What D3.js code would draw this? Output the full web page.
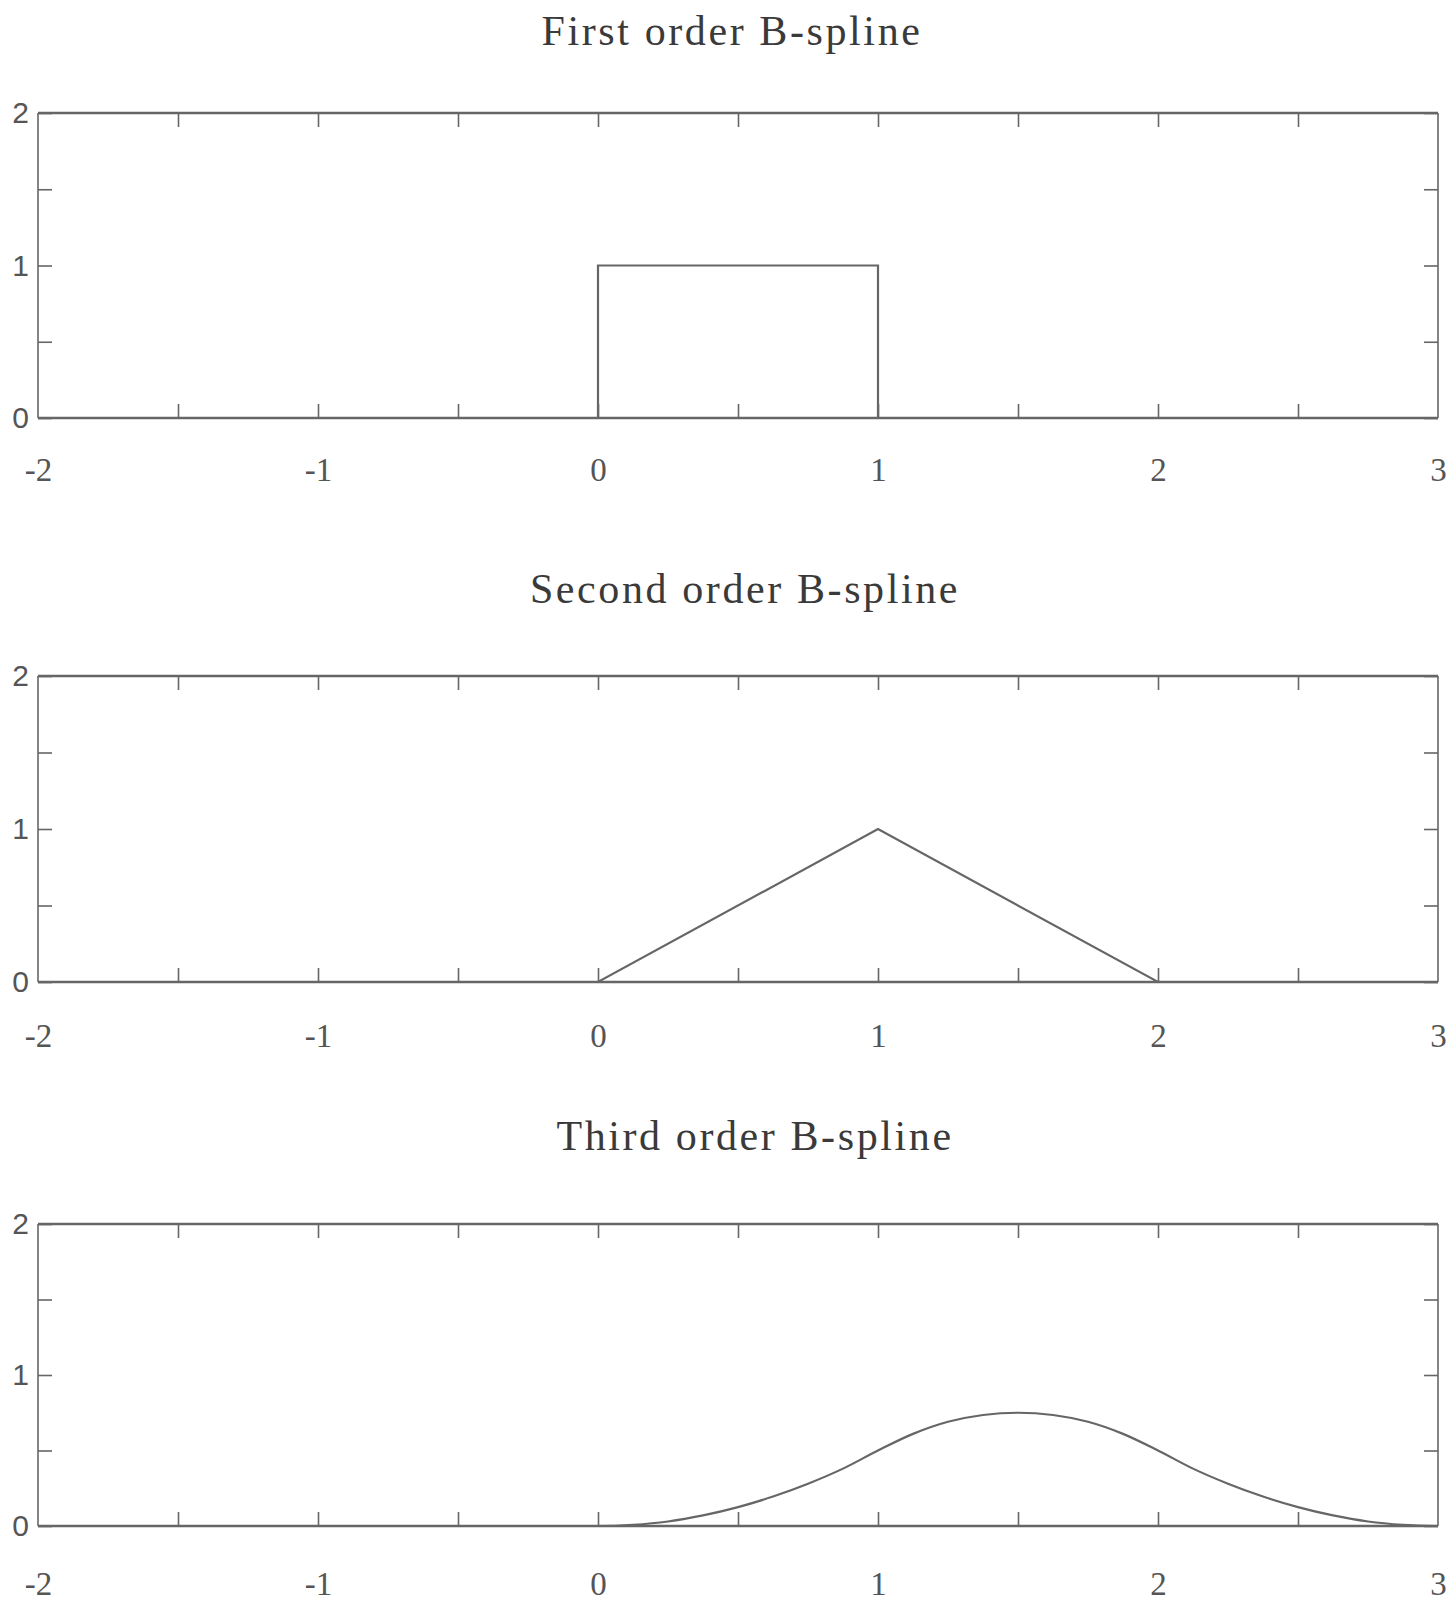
<!DOCTYPE html>
<html>
<head>
<meta charset="utf-8">
<script src="https://cdn.jsdelivr.net/npm/d3@7"></script>
<style>
  html, body { margin: 0; padding: 0; background: #fff; }
  svg { display: block; }
  .title { font-family: "Liberation Serif", "DejaVu Serif", serif; fill: #3a3a3a; }
  .xlab text { font-family: "Liberation Serif", serif; fill: #555; }
  .ylab text { font-family: "Liberation Sans", Arial, sans-serif; fill: #555; }
</style>
</head>
<body>
<div class="container"></div>
<script>
const titles = ['First order B-spline', 'Second order B-spline', 'Third order B-spline']

const xTickLabels = [-2, -1, 0, 1, 2, 3]
const xMinorTicks = [-1.5, -1, -0.5, 0, 0.5, 1, 1.5, 2, 2.5]
const yTickLabels = [0, 1, 2]
const yMinorTicks = [0, 0.5, 1, 1.5, 2]

// first order: box on [0, 1]
const firstX = [-2, 0, 0, 1, 1, 3]
const firstY = [0, 0, 1, 1, 0, 0]

// second order: hat on [0, 2]
const secondX = [-2, 0, 1, 2, 3]
const secondY = [0, 0, 1, 0, 0]

// third order: bell on [0, 3]
const thirdX = [-2, 0, 0.125, 0.25, 0.375, 0.5, 0.625, 0.75, 0.875, 1, 1.125, 1.25, 1.375, 1.5,
  1.625, 1.75, 1.875, 2, 2.125, 2.25, 2.375, 2.5, 2.625, 2.75, 2.875, 3]
const thirdY = [0, 0, 0.008, 0.03, 0.07, 0.125, 0.195, 0.28, 0.38, 0.5, 0.61, 0.69, 0.735, 0.75,
  0.735, 0.69, 0.61, 0.5, 0.38, 0.28, 0.195, 0.125, 0.07, 0.03, 0.008, 0]

const series = [
  { xs: firstX, ys: firstY, curve: d3.curveLinear },
  { xs: secondX, ys: secondY, curve: d3.curveLinear },
  { xs: thirdX, ys: thirdY, curve: d3.curveMonotoneX }
]

const width = 1454
const height = 1612
const left = 38
const right = 1438
const panelTops = [113, 676, 1224]
const panelHeights = [305, 306, 302]
const titleX = [732, 745, 755]
const titleY = [45, 603, 1150]
const labelPad = [40, 42, 46]
const tick = 14
const stroke = '#666'

const svg = d3.select('.container').append('svg')
  .attr('width', width).attr('height', height)

const x = d3.scaleLinear().domain([-2, 3]).range([left, right])

series.forEach((s, i) => {
  const top = panelTops[i]
  const h = panelHeights[i]
  const y = d3.scaleLinear().domain([0, 2]).range([top + h, top])

  svg.append('text').attr('class', 'title')
    .attr('x', titleX[i]).attr('y', titleY[i])
    .attr('text-anchor', 'middle')
    .attr('font-size', 42)
    .attr('letter-spacing', 2.6)
    .text(titles[i])

  const g = svg.append('g')

  // inward ticks on all four sides
  const tickStyle = sel => {
    sel.select('.domain').remove()
    sel.selectAll('.tick line').attr('stroke', stroke).attr('stroke-width', 1.6)
    sel.selectAll('.tick text').remove()
  }
  g.append('g').attr('transform', `translate(0,${ top + h })`)
    .call(d3.axisBottom(x).tickValues(xMinorTicks).tickSize(-tick)).call(tickStyle)
  g.append('g').attr('transform', `translate(0,${ top })`)
    .call(d3.axisTop(x).tickValues(xMinorTicks).tickSize(-tick)).call(tickStyle)
  g.append('g').attr('transform', `translate(${ left },0)`)
    .call(d3.axisLeft(y).tickValues(yMinorTicks).tickSize(-tick)).call(tickStyle)
  g.append('g').attr('transform', `translate(${ right },0)`)
    .call(d3.axisRight(y).tickValues(yMinorTicks).tickSize(-tick)).call(tickStyle)

  // frame
  g.append('line').attr('x1', left).attr('x2', right).attr('y1', top).attr('y2', top)
    .attr('stroke', stroke).attr('stroke-width', 2.4)
  g.append('line').attr('x1', left).attr('x2', right).attr('y1', top + h).attr('y2', top + h)
    .attr('stroke', stroke).attr('stroke-width', 2.4)
  g.append('line').attr('x1', left).attr('x2', left).attr('y1', top).attr('y2', top + h)
    .attr('stroke', stroke).attr('stroke-width', 1.6)
  g.append('line').attr('x1', right).attr('x2', right).attr('y1', top).attr('y2', top + h)
    .attr('stroke', stroke).attr('stroke-width', 1.6)

  // labels
  const xl = g.append('g').attr('class', 'xlab').attr('transform', `translate(0,${ top + h })`)
    .call(d3.axisBottom(x).tickValues(xTickLabels).tickSize(0).tickPadding(labelPad[i]).tickFormat(d3.format('d')))
  xl.select('.domain').remove()
  xl.selectAll('.tick text').attr('font-size', 33).text(d => d < 0 ? '-' + Math.abs(d) : d)

  const yl = g.append('g').attr('class', 'ylab').attr('transform', `translate(${ left },0)`)
    .call(d3.axisLeft(y).tickValues(yTickLabels).tickSize(0).tickPadding(9).tickFormat(d3.format('d')))
  yl.select('.domain').remove()
  yl.selectAll('.tick text').attr('font-size', 30)

  // the spline
  const pts = s.xs.map((v, k) => [v, s.ys[k]])
  const line = d3.line().x(d => x(d[0])).y(d => y(d[1])).curve(s.curve)
  g.append('path').datum(pts)
    .attr('d', line)
    .attr('fill', 'none')
    .attr('stroke', stroke)
    .attr('stroke-width', 2.2)
})
</script>
</body>
</html>
